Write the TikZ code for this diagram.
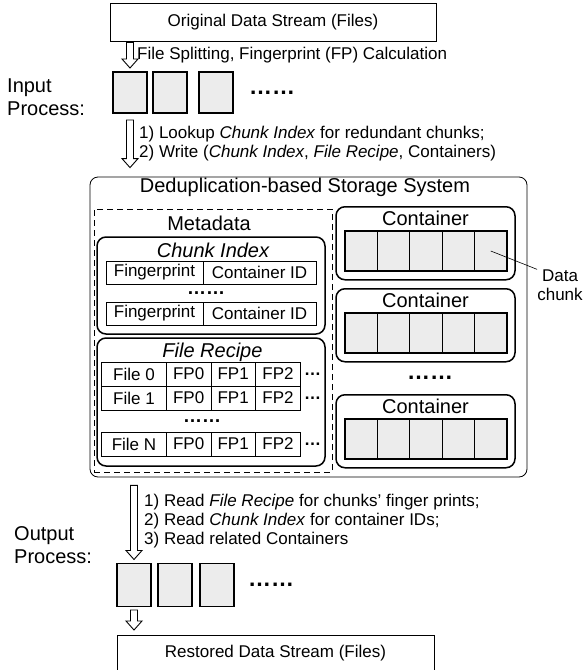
\documentclass[tikz,border=0pt]{standalone}
\usepackage{fontspec}
\setmainfont{Liberation Sans}
\usetikzlibrary{positioning,calc}
\newcommand{\fnorm}{\fontsize{17pt}{19pt}\selectfont}
\newcommand{\fbig}{\fontsize{20pt}{23pt}\selectfont}
\newcommand{\fdots}[1]{\fontsize{#1}{#1}\selectfont\bfseries}
\newcommand{\blockarrow}[2]{%
  \draw[blockarr] ($(#1)+(-3.5,0)$) -- ($(#2)+(-3.5,-9)$) -- ($(#2)+(-8,-9)$) -- (#2)
    -- ($(#2)+(8,-9)$) -- ($(#2)+(3.5,-9)$) -- ($(#1)+(3.5,0)$) -- cycle;}
\tikzset{
  box/.style={draw, line width=0.8pt, inner sep=0pt, font=\fnorm},
  rbox/.style={draw, line width=1.5pt, rounded corners=9pt, inner sep=0pt},
  chunk/.style={draw, line width=1.2pt, fill=gray!15, minimum width=34pt,
    minimum height=41pt, inner sep=0pt, outer sep=0pt},
  ccell/.style={chunk, minimum width=32.4pt, minimum height=40pt},
  cell/.style={draw, line width=0.9pt, minimum height=23pt, inner sep=0pt,
    outer sep=0pt, font=\fnorm},
  blockarr/.style={line width=0.9pt, fill=white, line join=miter},
  note/.style={inner sep=0pt, font=\fnorm, align=left},
  title/.style={inner sep=0pt, font=\fbig},
  dotsnode/.style={inner sep=0pt, font=\fdots{#1}}
}
\begin{document}
\begin{tikzpicture}[x=1pt, y=-1pt]
  \useasboundingbox (0,0) rectangle (582,670);
  % input side
  \node[box, minimum width=326pt, minimum height=38pt] (orig) at (273,22) {Original Data Stream (Files)};
  \node[chunk] (in1) at (130,92.5) {};
  \node[chunk, right=6pt of in1] (in2) {};
  \node[chunk, right=12pt of in2] (in3) {};
  \node[dotsnode=23pt, right=16pt of in3] (indots) {……};
  \node[note, anchor=west] (split) at (137,55) {File Splitting, Fingerprint (FP) Calculation};
  \node[note, anchor=west, font=\fbig] (inlbl) at (7,97.5) {Input\\Process:};
  \node[note, anchor=west] (write) at (139,144) {1) Lookup \textit{Chunk Index} for redundant chunks;\\2) Write (\textit{Chunk Index}, \textit{File Recipe}, Containers)};
  % storage system
  \node[draw, line width=0.8pt, rounded corners=8pt, minimum width=437pt, minimum height=300pt] (store) at (308.5,327) {};
  \node[title] (storettl) at (305,187) {Deduplication-based Storage System};
  \node[draw, line width=0.8pt, dash pattern=on 6pt off 4pt, minimum width=238pt, minimum height=263pt] (meta) at (213,340.5) {};
  \node[title] (metattl) at (209,223) {Metadata};
  % chunk index
  \node[rbox, minimum width=228pt, minimum height=97pt] (cidx) at (211,285.5) {};
  \node[title, font=\fbig\itshape] (cidxttl) at (213,250) {Chunk Index};
  \node[cell, minimum width=97pt] (fp1) at (154.5,272.5) {Fingerprint};
  \node[cell, minimum width=113pt, right=0pt of fp1] (cid1) {Container ID};
  \node[dotsnode=19pt] (cidots) at (206,293) {……};
  \node[cell, minimum width=97pt] (fp2) at (154.5,313.5) {Fingerprint};
  \node[cell, minimum width=113pt, right=0pt of fp2] (cid2) {Container ID};
  % file recipe
  \node[rbox, minimum width=228pt, minimum height=128pt] (recipe) at (211,402) {};
  \node[title, font=\fbig\itshape] (recipettl) at (212.5,352) {File Recipe};
  \foreach \rowid/\rowy in {0/374,1/398,N/444} {
    \node[cell, minimum width=64.3pt, minimum height=24pt] (fr\rowid) at (134,\rowy) {File \rowid};
    \node[cell, minimum width=45pt, minimum height=24pt, right=0pt of fr\rowid] (fr\rowid a) {FP0};
    \node[cell, minimum width=44pt, minimum height=24pt, right=0pt of fr\rowid a] (fr\rowid b) {FP1};
    \node[cell, minimum width=45.7pt, minimum height=24pt, right=0pt of fr\rowid b] (fr\rowid c) {FP2};
    \node[dotsnode=17pt, right=3pt of fr\rowid c] (fr\rowid dots) {…};
  }
  \node[dotsnode=19pt] (frdots) at (202,421) {……};
  % containers
  \foreach \i/\cy in {1/206,2/288,3/394} {
    \node[rbox, minimum width=179pt, minimum height=73pt, anchor=north] (con\i) at (425.5,\cy) {};
    \node[title] (conttl\i) at (425.5,\cy+12) {Container};
    \foreach \j in {1,...,5}
      \node[ccell] (con\i c\j) at (361.2+\j*32.4-32.4,\cy+45) {};
  }
  \node[dotsnode=23pt] (condots) at (430,378) {……};
  \node[note, align=center] (datalbl) at (560,285) {Data\\chunk};
  \draw[line width=0.6pt] (con1c5.center) -- (datalbl.north west);
  % output side
  \node[note, anchor=west] (read) at (144,521.5) {1) Read \textit{File Recipe} for chunks' finger prints;\\2) Read \textit{Chunk Index} for container IDs;\\3) Read related Containers};
  \node[note, anchor=west, font=\fbig] (outlbl) at (14,545) {Output\\Process:};
  \node[chunk, minimum height=43pt] (out1) at (134,585) {};
  \node[chunk, minimum height=43pt, right=7pt of out1] (out2) {};
  \node[chunk, minimum height=43pt, right=8pt of out2] (out3) {};
  \node[dotsnode=23pt, right=14pt of out3] (outdots) {……};
  \node[box, minimum width=317pt, minimum height=36pt, anchor=north] (rest) at (275.5,635) {Restored Data Stream (Files)};
  % hollow arrows
  \coordinate (a1s) at ($(orig.south -| in1)+(0,1)$);
  \coordinate (a1e) at ($(in1.north)+(0,-4)$);
  \coordinate (a2s) at ($(in1.south)+(0,7)$);
  \coordinate (a2e) at ($(store.north -| in1)+(0,-9)$);
  \coordinate (a3s) at ($(store.south -| out1)+(0,8)$);
  \coordinate (a3e) at ($(out1.north)+(0,-4)$);
  \coordinate (a4s) at ($(out1.south)+(0,3.5)$);
  \coordinate (a4e) at ($(rest.north -| out1)+(0,-5)$);
  \blockarrow{a1s}{a1e}
  \blockarrow{a2s}{a2e}
  \blockarrow{a3s}{a3e}
  \blockarrow{a4s}{a4e}
\end{tikzpicture}
\end{document}
